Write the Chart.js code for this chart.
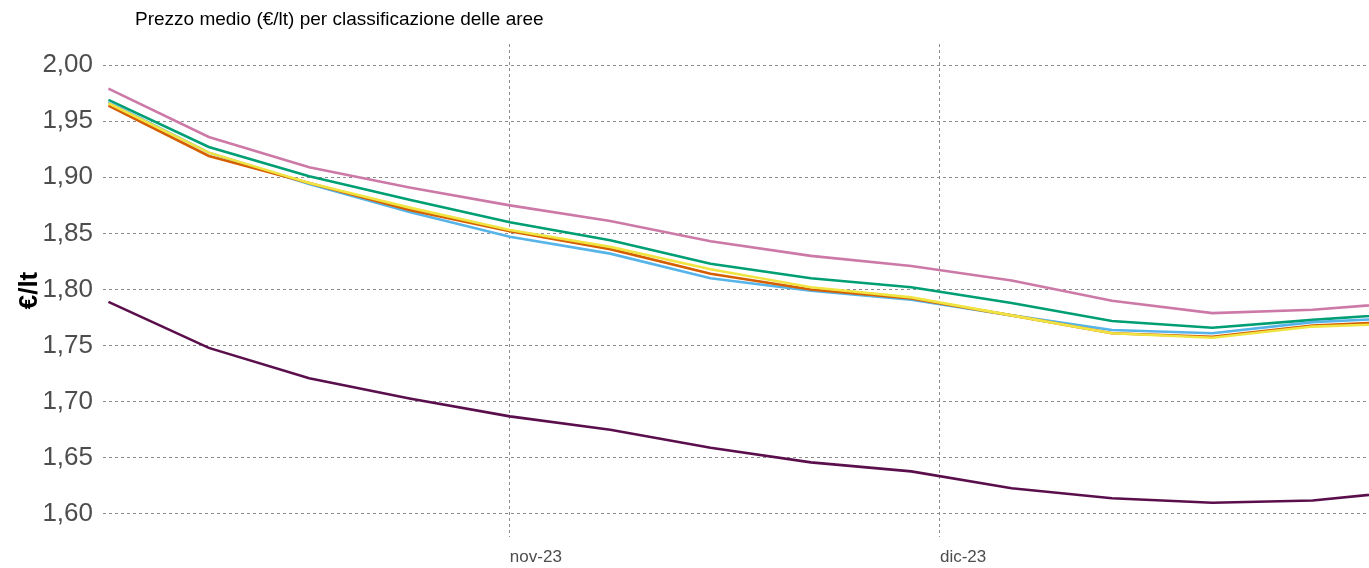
<!DOCTYPE html>
<html lang="it">
<head>
<meta charset="utf-8">
<title>Prezzo medio per classificazione delle aree</title>
<script src="https://cdn.jsdelivr.net/npm/chart.js@4.4.1/dist/chart.umd.min.js"></script>
<style>
  html, body { margin: 0; padding: 0; background: #ffffff; }
  #wrap { position: relative; width: 1369px; height: 568px; }
</style>
</head>
<body>
<div id="wrap"><canvas id="prezzi"></canvas></div>
<script>
/* ---------------------------------------------------------
   Dati: rilevazioni settimanali del prezzo medio (€/lt)
--------------------------------------------------------- */
const dates = [
  "2023-10-04", "2023-10-11", "2023-10-18", "2023-10-25",
  "2023-11-01", "2023-11-08", "2023-11-15", "2023-11-22", "2023-11-29",
  "2023-12-06", "2023-12-13", "2023-12-20", "2023-12-27", "2024-01-03",
];
const monthTicks = ["2023-11-01", "2023-12-01"];
const monthLabels = ["nov-23", "dic-23"];
const yTicks = [1.60, 1.65, 1.70, 1.75, 1.80, 1.85, 1.90, 1.95, 2.00];

const polo            = [1.979, 1.936, 1.909, 1.891, 1.875, 1.861, 1.843, 1.830, 1.821, 1.808, 1.790, 1.779, 1.782, 1.789];
const poloInter       = [1.969, 1.927, 1.901, 1.880, 1.860, 1.844, 1.823, 1.810, 1.802, 1.788, 1.772, 1.766, 1.773, 1.779];
const cintura         = [1.966, 1.922, 1.895, 1.873, 1.853, 1.838, 1.818, 1.802, 1.793, 1.777, 1.761, 1.757, 1.767, 1.770];
const intermedio      = [1.964, 1.919, 1.895, 1.871, 1.852, 1.836, 1.814, 1.800, 1.792, 1.777, 1.761, 1.758, 1.768, 1.772];
const periferico      = [1.967, 1.922, 1.894, 1.869, 1.847, 1.832, 1.810, 1.799, 1.791, 1.777, 1.764, 1.761, 1.771, 1.775];
const ultraperiferico = [1.789, 1.748, 1.721, 1.703, 1.687, 1.675, 1.659, 1.646, 1.638, 1.623, 1.614, 1.610, 1.612, 1.621];

const TITLE = "Prezzo medio (€/lt) per classificazione delle aree";

/* giorni trascorsi dal 1 ottobre 2023 */
const ORIGIN = Date.parse("2023-10-01");
const dayIndex = (iso) => (Date.parse(iso) - ORIGIN) / 86400000;

const toPoints = (values) => values.map((v, i) => ({ x: dayIndex(dates[i]), y: v }));

const tickDays = monthTicks.map(dayIndex);

/* ---------------------------------------------------------
   Titolo in alto a sinistra
--------------------------------------------------------- */
const titlePlugin = {
  id: "titolo",
  afterDraw(chart) {
    const ctx = chart.ctx;
    ctx.save();
    ctx.font = "19px 'Liberation Sans', Arial, sans-serif";
    ctx.fillStyle = "#000000";
    ctx.textBaseline = "alphabetic";
    ctx.fillText(TITLE, chart.chartArea.left + 32, 25);
    ctx.restore();
  },
};

const line = (label, values, color) => ({
  label,
  data: toPoints(values),
  borderColor: color,
  backgroundColor: color,
  borderWidth: 2.6,
  pointRadius: 0,
  tension: 0,
});

// il primo dataset viene disegnato per ultimo (sopra gli altri)
const datasets = [
  line("Cintura", cintura, "#F0E442"),
  line("Intermedio", intermedio, "#D55E00"),
  line("Periferico", periferico, "#56B4E9"),
  line("Polo intercomunale", poloInter, "#009E73"),
  line("Polo", polo, "#CC79A7"),
  line("Ultraperiferico", ultraperiferico, "#5A0F4C"),
];

const gridGrey = "#8c8c8c";
const tickGrey = "#4d4d4d";
const fontFamily = "'Liberation Sans', Arial, sans-serif";

new Chart(document.getElementById("prezzi"), {
  type: "line",
  data: { datasets },
  plugins: [titlePlugin],
  options: {
    responsive: true,
    maintainAspectRatio: false,
    animation: false,
    layout: { padding: { top: 44, right: 0, bottom: 0, left: 0 } },
    plugins: {
      legend: { display: false },
      tooltip: { enabled: false },
      title: { display: false },
    },
    scales: {
      x: {
        type: "linear",
        min: 2.62,
        max: 90.93,
        afterBuildTicks: (scale) => {
          scale.ticks = tickDays.map((v) => ({ value: v }));
        },
        afterFit: (scale) => { scale.height = 31; },
        ticks: {
          autoSkip: false,
          maxRotation: 0,
          align: "start",
          padding: 10,
          color: tickGrey,
          font: { family: fontFamily, size: 17 },
          callback: (value) => monthLabels[tickDays.indexOf(value)] ?? "",
        },
        grid: { color: gridGrey, lineWidth: 1, drawTicks: false },
        border: { display: false, dash: [3, 3] },
      },
      y: {
        min: 1.5795,
        max: 2.0188,
        afterBuildTicks: (scale) => {
          scale.ticks = yTicks.map((v) => ({ value: v }));
        },
        afterFit: (scale) => { scale.width = 103; },
        ticks: {
          padding: 10,
          color: tickGrey,
          font: { family: fontFamily, size: 26 },
          callback: (value) => value.toFixed(2).replace(".", ","),
        },
        grid: { color: gridGrey, lineWidth: 1, drawTicks: false },
        border: { display: false, dash: [3, 3] },
        title: {
          display: true,
          text: "€/lt",
          color: "#000000",
          font: { family: fontFamily, size: 26, weight: "bold" },
          padding: { top: 14, bottom: 0 },
        },
      },
    },
  },
});
</script>
</body>
</html>
